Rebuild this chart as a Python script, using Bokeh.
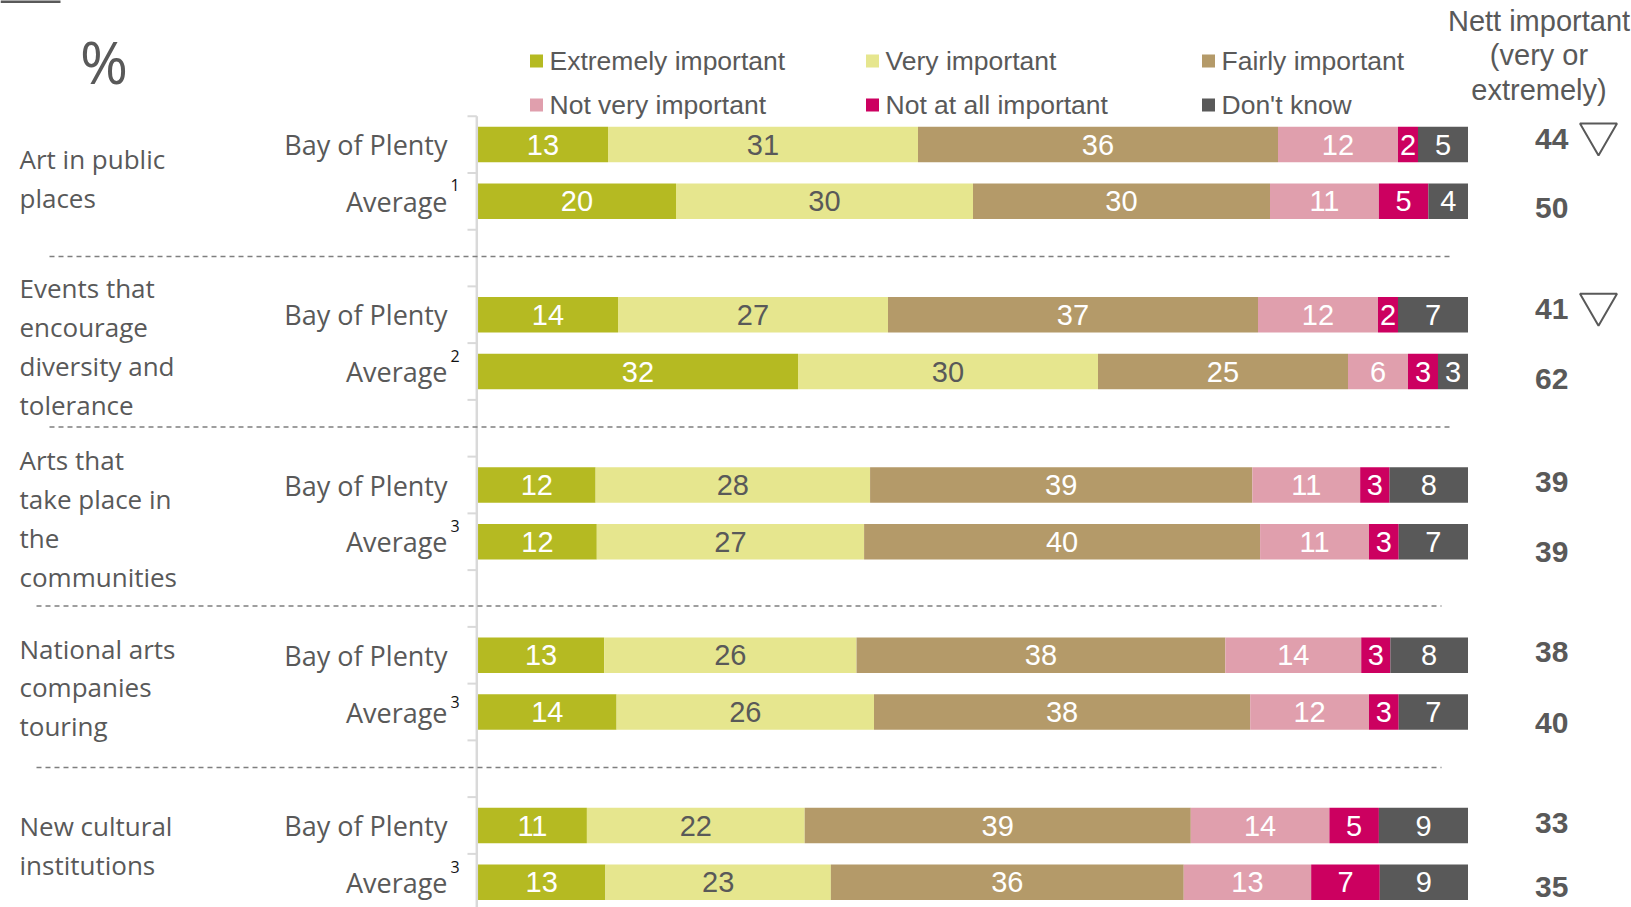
import numpy as np
from bokeh.plotting import figure
from bokeh.models import ColumnDataSource, Range1d
from bokeh.core.properties import value
from bokeh.embed import file_html
from bokeh.resources import INLINE

# ---------------- data ----------------
groups = [
    "Art in public\nplaces",
    "Events that\nencourage\ndiversity and\ntolerance",
    "Arts that\ntake place in\nthe\ncommunities",
    "National arts\ncompanies\ntouring",
    "New cultural\ninstitutions",
]
row_labels = ["Bay of Plenty", "Average"]
footnotes = ["1", "2", "3", "3", "3"]
categories = ["Extremely important", "Very important", "Fairly important",
              "Not very important", "Not at all important", "Don't know"]

extremely  = [13, 20, 14, 32, 12, 12, 13, 14, 11, 13]
very       = [31, 30, 27, 30, 28, 27, 26, 26, 22, 23]
fairly     = [36, 30, 37, 25, 39, 40, 38, 38, 39, 36]
not_very   = [12, 11, 12, 6, 11, 11, 14, 12, 14, 13]
not_at_all = [2, 5, 2, 3, 3, 3, 3, 3, 5, 7]
dont_know  = [5, 4, 7, 3, 8, 7, 8, 7, 9, 9]
nett       = [44, 50, 41, 62, 39, 39, 38, 40, 33, 35]
sig_lower  = [True, False, True, False, False, False, False, False, False, False]

# ---------------- styles ----------------
colors = ["#b5ba22", "#e6e68e", "#b49a69", "#e09fad", "#cc0060", "#595959"]
label_colors = ["white", "#595959", "white", "white", "white", "white"]
GRAY = "#595959"
SANS = value("Liberation Sans")
CAL = value("Open Sans")

W, H = 1631, 907
X0, PXP = 477.5, 9.9      # page px of 0 %, px per %
Y0, PXS = 144.0, 56.75    # page px of slot 0, px per slot


def dx(px):
    return (px - X0) / PXP


def dy(py):
    return (py - Y0) / PXS


p = figure(width=W, height=H, output_backend="svg", toolbar_location=None,
           x_range=Range1d(dx(0), dx(W)), y_range=Range1d(dy(H), dy(0)),
           x_axis_location=None, y_axis_location=None,
           min_border=0, outline_line_color=None)
p.grid.visible = False

# ---------------- bars ----------------
rows = np.arange(10)
slots = 3 * (rows // 2) + rows % 2
vals = np.array([extremely, very, fairly, not_very, not_at_all, dont_know], dtype=float)
pct = vals / vals.sum(axis=0) * 100.0
keys = ["c%d" % i for i in range(6)]
src = ColumnDataSource(dict(slot=slots, **{k: pct[i] for i, k in enumerate(keys)}))
p.hbar_stack(keys, y="slot", height=0.626, color=colors, line_color=None, source=src)

left = np.cumsum(pct, axis=0) - pct
lab = ColumnDataSource(dict(
    x=(left + pct / 2).ravel(),
    y=np.tile(slots, 6),
    text=[str(int(v)) for v in vals.ravel()],
    color=np.repeat(label_colors, 10),
))
p.text(x="x", y="y", text="text", text_color="color", source=lab,
       text_font=SANS, text_font_size="29px", text_align="center", text_baseline="middle")

# ---------------- category axis (drawn) ----------------
p.segment(x0=dx(476.3), y0=-0.5, x1=dx(476.3), y1=dy(H) + 1, line_color="#d9d9d9", line_width=2.5)
bounds = np.arange(-0.5, slots.max() + 1.6, 1.0)
p.segment(x0=dx(467), y0=bounds, x1=dx(476.3), y1=bounds, line_color="#d9d9d9", line_width=2)

p.text(x=dx(447), y=slots, text=[row_labels[k] for k in rows % 2],
       text_font=CAL, text_font_size="27px", text_color=GRAY,
       text_align="right", text_baseline="middle")

sup_off = [-16, -16, -16, -10.5, -15.5]
avg_slots = slots[rows % 2 == 1]
p.text(x=dx(450), y=avg_slots + np.array(sup_off) / PXS, text=footnotes,
       text_font=CAL, text_font_size="16px", text_color="#111111",
       text_align="left", text_baseline="middle")

group_y = [178, 346, 518, 687, 845]
p.text(x=dx(19), y=[dy(v) for v in group_y], text=groups,
       text_font=CAL, text_font_size="26px", text_color=GRAY,
       text_align="left", text_baseline="middle", text_line_height=1.08)

# separators
sep_y = [256, 426.5, 605.5, 767]
sep_x0 = [49, 49, 36, 36]
sep_x1 = [1453, 1453, 1441, 1441]
p.segment(x0=[dx(v) for v in sep_x0], y0=[dy(v) for v in sep_y],
          x1=[dx(v) for v in sep_x1], y1=[dy(v) for v in sep_y],
          line_color="#7f7f7f", line_width=1.5, line_dash="5 4")

# ---------------- header items ----------------
p.text(x=dx(103.5), y=dy(61), text=["%"], text_font=CAL, text_font_size="58px",
       text_color=GRAY, text_align="center", text_baseline="middle")
p.segment(x0=dx(0), y0=dy(1), x1=dx(60), y1=dy(1), line_color=GRAY, line_width=3)

# legend
leg_sq_x = [536, 872, 1208]
leg_tx_x = [549, 885, 1221]
leg_y = [60.5, 104.5]
idx = np.arange(6)
p.scatter(x=[dx(leg_sq_x[i % 3]) for i in idx], y=[dy(leg_y[i // 3]) for i in idx],
          marker="square", size=13, color=colors, line_color=None)
p.text(x=[dx(leg_tx_x[i % 3]) for i in idx], y=[dy(leg_y[i // 3]) for i in idx],
       text=categories, text_font=SANS, text_font_size="26.5px", text_color=GRAY,
       text_align="left", text_baseline="middle")

# nett column
p.text(x=dx(1538.5), y=dy(55), text=["Nett important\n(very or\nextremely)"],
       text_font=SANS, text_font_size="29px", text_color=GRAY,
       text_align="center", text_baseline="middle", text_line_height=1.07)
nett_off = np.array([-6, 7, -6, 7.5, -3.5, 10, -3.5, 10.5, -2.5, 5]) / PXS
p.text(x=dx(1551.3), y=slots + nett_off, text=[str(v) for v in nett],
       text_font=SANS, text_font_size="30px", text_font_style="bold", text_color=GRAY,
       text_align="center", text_baseline="middle")
sig_slots = slots[np.array(sig_lower)]
p.scatter(x=dx(1598), y=sig_slots - 10.3 / PXS, marker="inverted_triangle", size=37,
          fill_color=None, line_color=GRAY, line_width=2)

open("out.html", "w").write(file_html(p, INLINE))
